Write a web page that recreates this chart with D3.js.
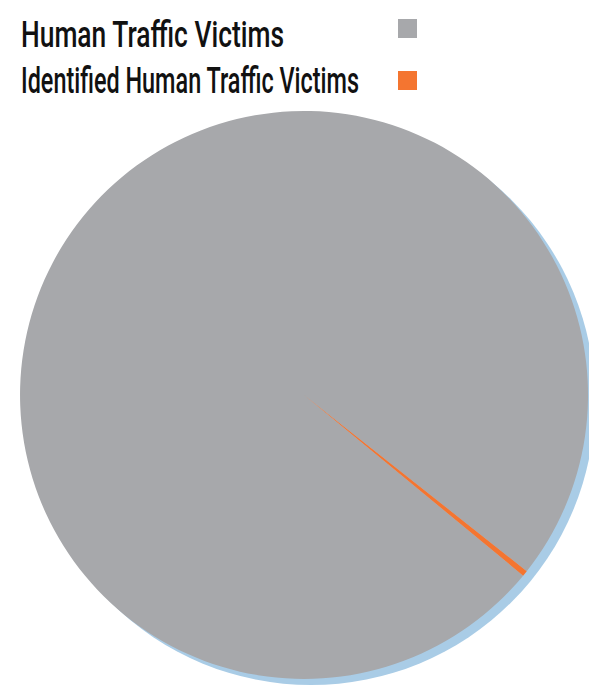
<!DOCTYPE html>
<html>
<head>
<meta charset="utf-8">
<script src="https://cdn.jsdelivr.net/npm/d3@7"></script>
<style>
  html, body { margin: 0; padding: 0; background: #fff; }
  svg { display: block; }
  .legend text { font-family: Roboto, "DejaVu Sans Condensed", sans-serif; font-weight: 500; fill: #111; }
</style>
</head>
<body>
<script>
// chart data
var categories = ["Human Traffic Victims", "Identified Human Traffic Victims"];
var victims = [20900000, 68000];
var colors = ["#a7a8ab", "#f47530"];

var width = 589, height = 685;
var cx = 304, cy = 395, radius = 284;
// rotation so the thin slice sits down-right like the original
var startDeg = 129.5;

var svg = d3.select("body").append("svg")
    .attr("width", width)
    .attr("height", height);

var pie = d3.pie()
    .sort(null)
    .value(function (d) { return d; })
    .startAngle(startDeg * Math.PI / 180)
    .endAngle((startDeg + 360) * Math.PI / 180);

var arc = d3.arc().innerRadius(0).outerRadius(radius);

// light blue drop shadow behind the pie
svg.append("circle")
    .attr("cx", cx + 7)
    .attr("cy", cy + 6)
    .attr("r", radius)
    .attr("fill", "#a9cce6");

var g = svg.append("g")
    .attr("transform", "translate(" + cx + "," + cy + ")");

g.selectAll("path")
    .data(pie(victims))
    .enter().append("path")
    .attr("d", arc)
    .attr("fill", function (d, i) { return colors[i]; });

// legend
var legend = svg.append("g").attr("class", "legend");
var textWidths = [263, 338];
var baselines = [47, 93];
for (var i = 0; i < categories.length; i++) {
    legend.append("text")
        .attr("x", 21)
        .attr("y", baselines[i])
        .attr("font-size", 36)
        .attr("textLength", textWidths[i])
        .attr("lengthAdjust", "spacingAndGlyphs")
        .text(categories[i]);
    legend.append("rect")
        .attr("x", 398)
        .attr("y", 19 + i * 52)
        .attr("width", 19)
        .attr("height", 19)
        .attr("fill", colors[i]);
}
</script>
</body>
</html>
